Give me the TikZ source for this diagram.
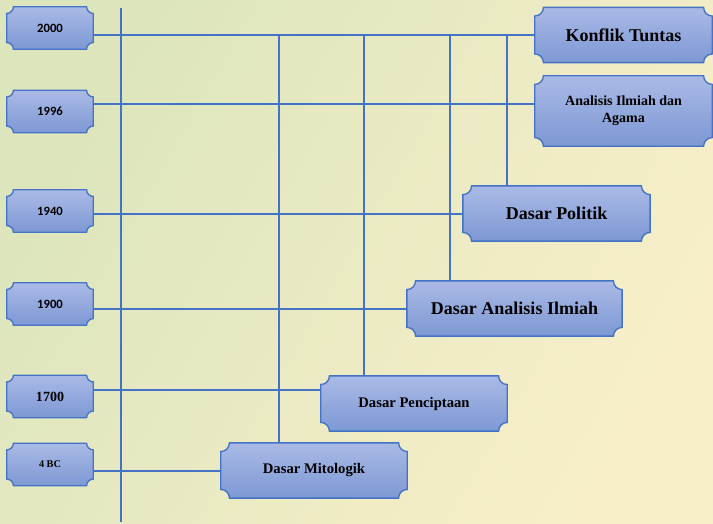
\documentclass[tikz,border=0pt]{standalone}
\usepackage{fontspec}
\setmainfont{Liberation Serif}
\newfontfamily\yearfont{Carlito}
\usepackage{xcolor}
\usetikzlibrary{backgrounds}
\definecolor{linkblue}{HTML}{4472C4}
\definecolor{boxtop}{RGB}{170,186,230}
\definecolor{boxbot}{RGB}{125,152,212}
\definecolor{bgleft}{RGB}{220,229,188}
\definecolor{bgright}{RGB}{248,239,202}

\begin{document}
\begin{tikzpicture}[x=0.75pt,y=-0.75pt,
    link/.style={draw=linkblue,line width=1.5pt},
    yearbox/.style={minimum width=64.5pt,minimum height=31.5pt,inner sep=0pt,font=\yearfont\bfseries\fontsize{9.5}{11}\selectfont},
    stagebox/.style={minimum height=41pt,inner sep=2pt,align=center,font=\bfseries\fontsize{13.5}{15}\selectfont},
    plaque/.style={top color=boxtop,bottom color=boxbot,draw=linkblue,line width=1pt}]
  \useasboundingbox (0,0) rectangle (713,524);
  \begin{scope}[on background layer]
    \shade[left color=bgleft,right color=bgright,shading angle=60] (0,0) rectangle (713,524);
  \end{scope}

  % years
  \node[yearbox] (y2000) at (50,28) {2000};
  \node[yearbox] (y1996) at (50,111.5) {1996};
  \node[yearbox] (y1940) at (50,211) {1940};
  \node[yearbox] (y1900) at (50,304) {1900};
  \node[yearbox,font=\bfseries\fontsize{10.5}{12}\selectfont] (y1700) at (50,396.5) {1700};
  \node[yearbox,font=\bfseries\fontsize{7.7}{9}\selectfont] (y4bc) at (50,464.5) {4 BC};

  % stages
  \node[stagebox,minimum width=132.75pt] (konflik) at (623.5,35) {Konflik Tuntas};
  \node[stagebox,minimum width=132.75pt,minimum height=52.5pt,font=\bfseries\fontsize{10.5}{12.5}\selectfont] (agama) at (623.5,111) {Analisis Ilmiah dan\\Agama};
  \node[stagebox,minimum width=140pt] (politik) at (556.5,213.5) {Dasar Politik};
  \node[stagebox,minimum width=161pt] (ilmiah) at (514.5,308.5) {Dasar Analisis Ilmiah};
  \node[stagebox,minimum width=139.5pt,font=\bfseries\fontsize{11}{13}\selectfont] (cipta) at (414,403.5) {Dasar Penciptaan};
  \node[stagebox,minimum width=139.5pt,font=\bfseries\fontsize{11}{13}\selectfont] (mito) at (314,470.5) {Dasar Mitologik};

  % time axis
  \coordinate (axtop) at (121,8);
  \coordinate (axbot) at (121,522);
  \draw[link] (axtop) -- (axbot);

  \draw[link] (konflik.west) -- (konflik.west -| y2000.east);
  \draw[link] ([yshift=5pt]agama.west) -- ([yshift=5pt]agama.west -| y1996.east);
  \draw[link] (politik.west) -- (politik.west -| y1940.east);
  \draw[link] (ilmiah.west) -- (ilmiah.west -| y1900.east);
  \draw[link] ([yshift=5pt]y1700.east) -- ([yshift=5pt]y1700.east -| cipta.west);
  \draw[link] (mito.west) -- (mito.west -| y4bc.east);
  \foreach \x/\n in {279/mito,364/cipta,450/ilmiah,507/politik}{
    \coordinate (drop\n) at (\x,35);
    \draw[link] (drop\n) -- (drop\n |- \n.north);
  }

  % scooped boxes
  \begin{scope}[on background layer]
    \foreach \n/\r in {y2000/5pt,y1996/5pt,y1940/5pt,y1900/5pt,y1700/5pt,y4bc/5pt,
        konflik/6.5pt,agama/6.5pt,politik/6.5pt,ilmiah/6.5pt,cipta/6.5pt,mito/6.5pt}
      \shadedraw[plaque] ([xshift=\r]\n.north west) -- ([xshift=-\r]\n.north east)
        arc[start angle=180,end angle=270,radius=\r] -- ([yshift=\r]\n.south east)
        arc[start angle=90,end angle=180,radius=\r] -- ([xshift=\r]\n.south west)
        arc[start angle=0,end angle=90,radius=\r] -- ([yshift=-\r]\n.north west)
        arc[start angle=270,end angle=360,radius=\r] -- cycle;
  \end{scope}
\end{tikzpicture}
\end{document}
